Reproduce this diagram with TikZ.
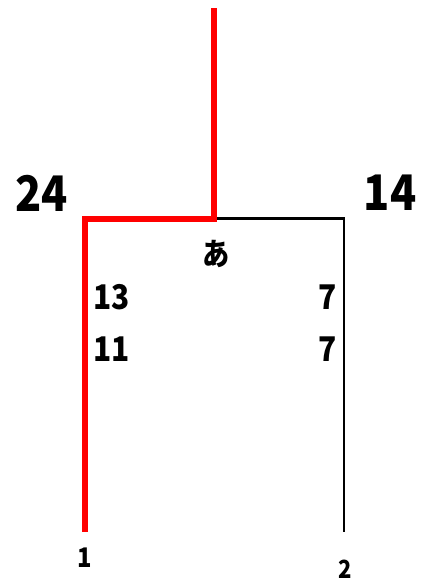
\documentclass[tikz,border=0pt]{standalone}
\usepackage{fontspec}
\newfontfamily\jp{Noto Sans CJK JP}
\begin{document}
\begin{tikzpicture}[x=1pt,y=-1pt,
  lbl/.style={inner sep=0pt, font=\jp\bfseries, xscale=0.88, transform shape},
  redline/.style={draw=red, line width=6pt, line join=miter},
  blackline/.style={draw=black, line width=2.6pt, line join=miter}]
\useasboundingbox (0,0) rectangle (432,582);
\coordinate (top) at (213.5,8);
\coordinate (mid) at (213.5,218.5);
\coordinate (lc) at (84.5,218.5);
\coordinate (lb) at (84.5,532);
\coordinate (rc) at (344,218.5);
\coordinate (rb) at (344,532);
\draw[blackline] (mid) -- (rc) -- (rb);
\draw[redline] (top) -- (mid) -- (lc) -- (lb);
\node[lbl, font=\jp\bfseries\fontsize{49}{49}\selectfont] (n24) at (42,193) {24};
\node[lbl, font=\jp\bfseries\fontsize{49}{49}\selectfont] (n14) at (390,193) {14};
\node[lbl, font=\jp\bfseries\fontsize{31}{31}\selectfont] (a) at (216,254) {あ};
\node[lbl, anchor=west, font=\jp\bfseries\fontsize{34}{34}\selectfont] (n13) at (93,297.5) {13};
\node[lbl, anchor=west, font=\jp\bfseries\fontsize{34}{34}\selectfont] (n11) at (93,349.5) {11};
\node[lbl, anchor=east, font=\jp\bfseries\fontsize{34}{34}\selectfont] (r7a) at (337,297.5) {7};
\node[lbl, anchor=east, font=\jp\bfseries\fontsize{34}{34}\selectfont] (r7b) at (337,349.5) {7};
\node[lbl, font=\jp\bfseries\fontsize{27}{27}\selectfont] (b1) at (85,558) {1};
\node[lbl, font=\jp\bfseries\fontsize{25}{25}\selectfont] (b2) at (345,569) {2};
\end{tikzpicture}
\end{document}
